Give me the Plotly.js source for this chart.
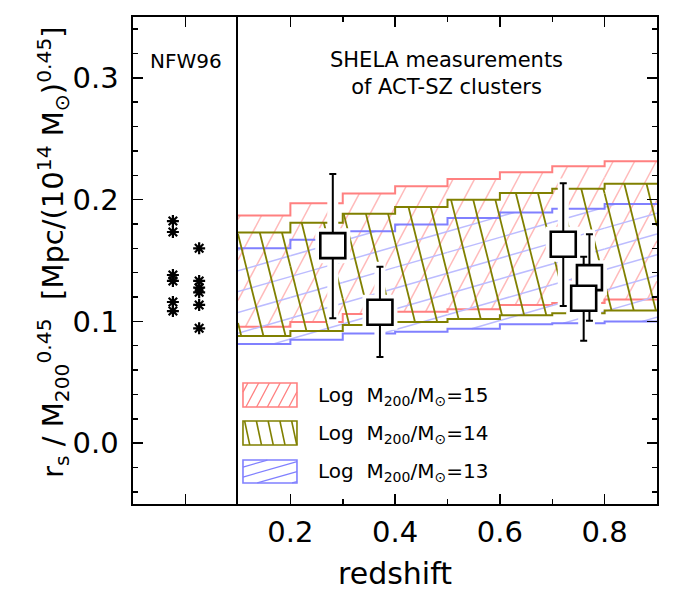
<!DOCTYPE html>
<html><head><meta charset="utf-8">
<script src="https://cdn.plot.ly/plotly-3.0.1.min.js"></script>
<style>html,body{margin:0;padding:0;background:#fff}</style>
</head><body><div id="chart" style="width:676px;height:591px"></div>
<script>
// ---------------- data ----------------
const zEdges = [0.1, 0.2, 0.3, 0.4, 0.5, 0.6, 0.7, 0.8, 0.9];
const m15Upper = [0.187, 0.197, 0.205, 0.211, 0.217, 0.2225, 0.2275, 0.2315];
const m15Lower = [0.0955, 0.0995, 0.106, 0.108, 0.110, 0.1135, 0.115, 0.118];
const m14Upper = [0.173, 0.181, 0.1885, 0.194, 0.200, 0.2055, 0.209, 0.213];
const m14Lower = [0.088, 0.092, 0.097, 0.0995, 0.102, 0.105, 0.1067, 0.109];
const m13Upper = [0.160, 0.167, 0.174, 0.1795, 0.185, 0.1895, 0.1925, 0.1965];
const m13Lower = [0.0815, 0.085, 0.090, 0.0915, 0.094, 0.0977, 0.0985, 0.100];

const zObs = [0.281, 0.371, 0.721, 0.771, 0.760];
const rsObs = [0.1622, 0.1075, 0.1633, 0.1359, 0.1190];
const rsObsHi = [0.2211, 0.1449, 0.2134, 0.1715, 0.1531];
const rsObsLo = [0.1025, 0.0707, 0.1126, 0.1006, 0.0841];

const nfwCol = [0.38, 0.38, 0.38, 0.38, 0.38, 0.38, 0.63, 0.63, 0.63, 0.63, 0.63, 0.63];
const nfwRs = [0.1824, 0.1734, 0.1381, 0.1332, 0.1159, 0.1085, 0.1600, 0.1332, 0.1277, 0.1239, 0.1135, 0.0943];

const legendLabels = ["15", "14", "13"];

// ---------------- geometry / style ----------------
const W = 676, H = 591;
const M = {l: 133, r: 19, t: 17, b: 87};
const plotW = W - M.l - M.r, plotH = H - M.t - M.b;
const split = 105 / plotW;
const xr = [0.1, 0.9], yr = [-0.05, 0.35];
const W2 = plotW * (1 - split);
const FONT = "DejaVu Sans";

const toPx = (z, v) => [(z - xr[0]) / (xr[1] - xr[0]) * W2, (yr[1] - v) / (yr[1] - yr[0]) * plotH];
const toData = (px, py) => [xr[0] + px / W2 * (xr[1] - xr[0]), yr[1] - py / plotH * (yr[1] - yr[0])];

function clipLine(c, n, d, x0, x1, y0, y1) {
  const px = c * n[0], py = c * n[1];
  let t0 = -1e7, t1 = 1e7;
  for (const [dd, p, lo, hi] of [[d[0], px, x0, x1], [d[1], py, y0, y1]]) {
    if (Math.abs(dd) < 1e-9) { if (p < lo || p > hi) return null; }
    else {
      let ta = (lo - p) / dd, tb = (hi - p) / dd;
      if (ta > tb) [ta, tb] = [tb, ta];
      t0 = Math.max(t0, ta); t1 = Math.min(t1, tb);
    }
  }
  if (t1 <= t0) return null;
  return [[px + t0 * d[0], py + t0 * d[1]], [px + t1 * d[0], py + t1 * d[1]]];
}

// hatch lines for a set of rectangles (data coords) -> x,y arrays
function hatch(rects, angleDeg, spacing, phase) {
  const a = angleDeg * Math.PI / 180;
  const d = [Math.cos(a), -Math.sin(a)];
  const n = [Math.sin(a), Math.cos(a)];
  const xs = [], ys = [];
  for (const [za, zb, lo, hi] of rects) {
    const [x0, y1] = toPx(za, lo);
    const [x1, y0] = toPx(zb, hi);
    const cs = [[x0, y0], [x0, y1], [x1, y0], [x1, y1]].map(p => p[0] * n[0] + p[1] * n[1]);
    const kmin = Math.ceil((Math.min(...cs) - phase) / spacing);
    const kmax = Math.floor((Math.max(...cs) - phase) / spacing);
    for (let k = kmin; k <= kmax; k++) {
      const seg = clipLine(phase + k * spacing, n, d, x0, x1, y0, y1);
      if (!seg) continue;
      const p = toData(...seg[0]), q = toData(...seg[1]);
      xs.push(p[0], q[0], null); ys.push(p[1], q[1], null);
    }
  }
  return {x: xs, y: ys};
}

function bandRects(upper, lower) {
  return upper.map((u, i) => [zEdges[i], zEdges[i + 1], lower[i], u]);
}

const RED = "rgb(255,128,128)", RED_H = "rgb(255,186,186)";
const OLV = "rgb(128,128,0)";
const BLU = "rgb(128,128,255)", BLU_H = "rgb(188,188,255)";

const bands = [
  {up: m15Upper, lo: m15Lower, edge: RED, hc: RED_H, ang: 62, sp: 19, ph: 0, hw: 1.5},
  {up: m13Upper, lo: m13Lower, edge: BLU, hc: BLU_H, ang: 16, sp: 20, ph: 4, hw: 1.5},
  {up: m14Upper, lo: m14Lower, edge: OLV, hc: OLV, ang: 104, sp: 21.5, ph: 12, hw: 1.8},
];

const traces = [];
for (const b of bands) {
  const h = hatch(bandRects(b.up, b.lo), b.ang, b.sp, b.ph);
  traces.push({x: h.x, y: h.y, xaxis: 'x2', yaxis: 'y2', mode: 'lines', line: {color: b.hc, width: b.hw}, hoverinfo: 'skip', showlegend: false});
  for (const arr of [b.up, b.lo]) {
    traces.push({x: zEdges, y: arr.concat([arr[arr.length - 1]]), xaxis: 'x2', yaxis: 'y2', mode: 'lines',
      line: {color: b.edge, width: 2, shape: 'hv'}, hoverinfo: 'skip', showlegend: false});
  }
}

// white halos around measurements
const haloX = [], haloY = [];
zObs.forEach((z, i) => { haloX.push(z, z, null); haloY.push(rsObsLo[i] - 0.004, rsObsHi[i] + 0.004, null); });
traces.push({x: haloX, y: haloY, xaxis: 'x2', yaxis: 'y2', mode: 'lines', line: {color: '#fff', width: 11}, hoverinfo: 'skip', showlegend: false});
traces.push({x: zObs, y: rsObs, xaxis: 'x2', yaxis: 'y2', mode: 'markers', marker: {symbol: 'square', size: 35, color: '#fff', line: {width: 0}}, hoverinfo: 'skip', showlegend: false});

// measurements
traces.push({x: zObs, y: rsObs, xaxis: 'x2', yaxis: 'y2', mode: 'markers',
  marker: {symbol: 'square', size: 25, color: '#fff', line: {color: '#000', width: 2.6}},
  error_y: {type: 'data', symmetric: false, array: rsObsHi.map((h, i) => h - rsObs[i]), arrayminus: rsObs.map((v, i) => v - rsObsLo[i]), color: '#000', thickness: 2, width: 3.5},
  showlegend: false});

// NFW96 points
traces.push({x: nfwCol, y: nfwRs, xaxis: 'x', yaxis: 'y', mode: 'markers',
  marker: {symbol: 'asterisk-open', size: 10, color: '#000', line: {color: '#000', width: 2.2}}, showlegend: false});

// legend patches (drawn in right-panel coordinates)
const legZ = [0.1095, 0.2126];
const legY = [[0.0297, 0.0494], [-0.0015, 0.0182], [-0.0327, -0.0139]];
const legStyle = [
  {edge: RED, ang: 62, sp: 9.5, ph: 0, hw: 1.3},
  {edge: OLV, ang: 102, sp: 11.5, ph: 3, hw: 1.6},
  {edge: BLU, ang: 16, sp: 9.6, ph: 2, hw: 1.3},
];
const shapes = [];
legStyle.forEach((s, i) => {
  const h = hatch([[legZ[0], legZ[1], legY[i][0], legY[i][1]]], s.ang, s.sp, s.ph);
  traces.push({x: h.x, y: h.y, xaxis: 'x2', yaxis: 'y2', mode: 'lines', line: {color: s.edge, width: s.hw}, hoverinfo: 'skip', showlegend: false});
  shapes.push({type: 'rect', xref: 'x2', yref: 'y2', x0: legZ[0], x1: legZ[1], y0: legY[i][0], y1: legY[i][1], line: {color: s.edge, width: 1.6}});
});

const pyToPaper = py => 1 - (py - M.t) / plotH;
const pxToPaper = px => (px - M.l) / plotW;

const annotations = [
  {text: 'NFW96', xref: 'x', yref: 'paper', x: 0.5, y: pyToPaper(61), xanchor: 'center', yanchor: 'middle', showarrow: false, font: {family: FONT, size: 20, color: '#000'}},
  {text: 'SHELA measurements<br>of ACT-SZ clusters', xref: 'paper', yref: 'paper', x: pxToPaper(446), y: pyToPaper(73), xanchor: 'center', yanchor: 'middle', showarrow: false, font: {family: FONT, size: 21, color: '#000'}},
  {text: 'redshift', xref: 'paper', yref: 'paper', x: 0.5, y: pyToPaper(573), xanchor: 'center', yanchor: 'middle', showarrow: false, font: {family: FONT, size: 30, color: '#000'}},
  {text: 'r<sub>s</sub> / M<sub>200</sub><sup>0.45</sup>\u00A0\u00A0[Mpc/(10<sup>14</sup> M<sub>\u2299</sub>)<sup>0.45</sup>]',
   xref: 'paper', yref: 'paper', x: pxToPaper(53), y: pyToPaper(252), xanchor: 'center', yanchor: 'middle', textangle: -90, showarrow: false, font: {family: FONT, size: 29, color: '#000'}},
];
const legTextY = [396, 434, 472];
legendLabels.forEach((lab, i) => {
  annotations.push({text: 'Log\u00A0\u00A0M<sub>200</sub>/M<sub>\u2299</sub>=' + lab, xref: 'paper', yref: 'paper', x: pxToPaper(316), xanchor: 'left', yanchor: 'middle', y: pyToPaper(legTextY[i]), showarrow: false, font: {family: FONT, size: 20, color: '#000'}});
});

const axCommon = {showgrid: false, zeroline: false, showline: true, linecolor: '#000', linewidth: 1.6, ticks: 'inside', tickcolor: '#000', tickwidth: 1.5, ticklen: 10, fixedrange: true, tickfont: {family: FONT, size: 29, color: '#000'}};
const yMinor = {dtick: 0.02, tick0: 0, ticks: 'inside', ticklen: 5, tickwidth: 1.5, tickcolor: '#000'};

const layout = {
  width: W, height: H, margin: M, paper_bgcolor: '#fff', plot_bgcolor: '#fff', showlegend: false,
  xaxis: Object.assign({}, axCommon, {domain: [0, split], range: [0, 1], tickvals: [0.5], showticklabels: false, mirror: 'ticks', anchor: 'y'}),
  yaxis: Object.assign({}, axCommon, {anchor: 'x', range: yr, dtick: 0.1, tick0: 0, tickformat: '.1f', minor: yMinor, mirror: false, ticklabelstandoff: 7}),
  xaxis2: Object.assign({}, axCommon, {domain: [split, 1], anchor: 'y2', range: xr, dtick: 0.2, tick0: 0.2, tickformat: '.1f', minor: {dtick: 0.1, tick0: 0.1, ticks: 'inside', ticklen: 5, tickwidth: 1.5, tickcolor: '#000'}, mirror: 'ticks', ticklabelstandoff: 2}),
  yaxis2: Object.assign({}, axCommon, {anchor: 'x2', matches: 'y', range: yr, dtick: 0.1, tick0: 0, minor: yMinor, side: 'right', showticklabels: false, mirror: true}),
  annotations: annotations,
  shapes: shapes,
};

Plotly.newPlot('chart', traces, layout, {staticPlot: true, displayModeBar: false});
</script></body></html>
